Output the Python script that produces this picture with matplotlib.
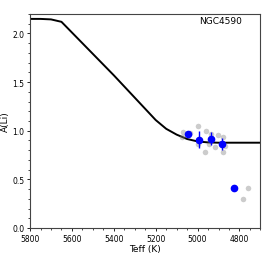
import matplotlib
matplotlib.use('Agg')
import matplotlib.pyplot as plt
from matplotlib.ticker import MultipleLocator

# model curve
model_teff = [5800, 5750, 5700, 5650, 5600, 5500, 5400, 5300, 5200, 5150, 5100,
              5050, 5000, 4950, 4900, 4800, 4700]
model_ali = [2.15, 2.15, 2.145, 2.12, 2.01, 1.79, 1.57, 1.34, 1.11, 1.02, 0.96,
             0.915, 0.89, 0.88, 0.877, 0.877, 0.877]

# individual stars (grey)
star_teff = [4997, 5068, 5076, 5036, 4960, 4934, 4902, 4877, 4997, 4967, 4947,
             4917, 4870, 4881, 4758, 4782]
star_ali = [1.044, 0.987, 0.936, 0.977, 0.993, 0.969, 0.952, 0.932, 0.867, 0.779,
            0.867, 0.834, 0.840, 0.779, 0.411, 0.303]

# binned means (blue)
bin_teff = [5047, 4992, 4937, 4882, 4826]
bin_ali = [0.966, 0.908, 0.918, 0.864, 0.411]
bin_err = [0.0, 0.085, 0.065, 0.065, 0.0]

fig = plt.figure(figsize=(2.66, 2.55), dpi=100)
ax = fig.add_axes([0.113, 0.102, 0.866, 0.839])

ax.plot(model_teff, model_ali, color='black', lw=1.4, zorder=2)
ax.scatter(star_teff, star_ali, s=16, color='grey', alpha=0.4, lw=0, zorder=3)
ax.errorbar(bin_teff, bin_ali, yerr=bin_err, fmt='o', color='blue', ms=4.5,
            elinewidth=1, capsize=0, zorder=4)

ax.set_xlim(5800, 4700)
ax.set_ylim(0, 2.2)
ax.xaxis.set_major_locator(MultipleLocator(200))
ax.xaxis.set_minor_locator(MultipleLocator(50))
ax.yaxis.set_major_locator(MultipleLocator(0.5))
ax.yaxis.set_minor_locator(MultipleLocator(0.1))
ax.tick_params(labelsize=5.5, length=2.5, width=0.6, pad=1.5)
ax.tick_params(which='minor', length=1.5, width=0.5)
for s in ax.spines.values():
    s.set_color('#444444')
    s.set_linewidth(0.8)

ax.set_xlabel('Teff (K)', fontsize=6.5, labelpad=1)
ax.set_ylabel('A(Li)', fontsize=6.5, labelpad=2)
ax.text(0.92, 0.969, 'NGC4590', transform=ax.transAxes, ha='right', va='center',
        fontsize=6.5)

fig.savefig('out.png', dpi=100)
